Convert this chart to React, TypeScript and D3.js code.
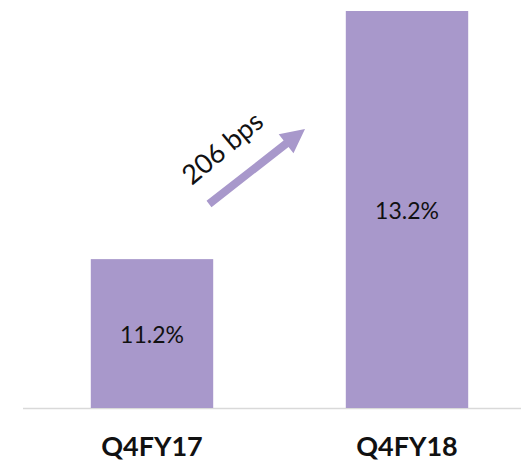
import React from "react";
import * as d3 from "d3";

const categories = ["Q4FY17", "Q4FY18"];
const values = [11.2, 13.2];
const valueLabels = ["11.2%", "13.2%"];
const changeLabel = "206 bps";

const width = 521;
const height = 463;
const barColor = "#A898CB";
const font = "Lato, 'Open Sans', sans-serif";

const App: React.FC = () => {
  const x = d3
    .scaleBand<string>()
    .domain(categories)
    .range([24.5, 534.5])
    .paddingInner(0.52)
    .paddingOuter(0.26);

  // axis does not start at zero
  const y = d3.scaleLinear().domain([10, 13.2]).range([408, 11]);

  // arrow from above first bar toward second bar
  const tail = { x: 209, y: 204 };
  const tip = { x: 305, y: 129 };
  const ang = Math.atan2(tip.y - tail.y, tip.x - tail.x);
  const headLen = 24;
  const headW = 12;
  const shaftW = 4;
  const bx = tip.x - headLen * Math.cos(ang);
  const by = tip.y - headLen * Math.sin(ang);
  const nx = -Math.sin(ang);
  const ny = Math.cos(ang);
  const arrowPts = [
    [tail.x + nx * shaftW, tail.y + ny * shaftW],
    [bx + nx * shaftW, by + ny * shaftW],
    [bx + nx * headW, by + ny * headW],
    [tip.x, tip.y],
    [bx - nx * headW, by - ny * headW],
    [bx - nx * shaftW, by - ny * shaftW],
    [tail.x - nx * shaftW, tail.y - ny * shaftW],
  ]
    .map(p => p.join(","))
    .join(" ");

  return (
    <svg
      width={width}
      height={height}
      style={{ position: "absolute", left: 0, top: 0, background: "#fff" }}
    >
      <line x1={23} x2={width} y1={408.5} y2={408.5} stroke="#D9D9D9" strokeWidth={1.5} />
      {categories.map((c, i) => (
        <g key={c}>
          <rect
            x={x(c)}
            y={y(values[i])}
            width={x.bandwidth()}
            height={y(10) - y(values[i])}
            fill={barColor}
          />
          <text
            x={(x(c) ?? 0) + x.bandwidth() / 2}
            y={(y(values[i]) + y(10)) / 2 + 9}
            textAnchor="middle"
            fontFamily={font}
            fontSize={23}
            fill="#111"
          >
            {valueLabels[i]}
          </text>
          <text
            x={(x(c) ?? 0) + x.bandwidth() / 2}
            y={456}
            textAnchor="middle"
            fontFamily={font}
            fontWeight="bold"
            fontSize={27}
            fill="#111"
          >
            {c}
          </text>
        </g>
      ))}
      <polygon points={arrowPts} fill={barColor} />
      <text
        transform="translate(224,150) rotate(-40)"
        textAnchor="middle"
        fontFamily={font}
        fontSize={27}
        fill="#111"
        dominantBaseline="middle"
      >
        {changeLabel}
      </text>
    </svg>
  );
};

export default App;
